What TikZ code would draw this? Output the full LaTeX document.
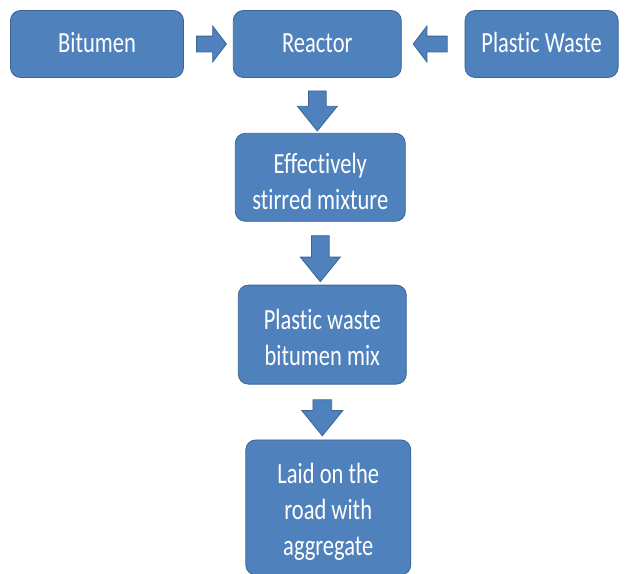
\documentclass[tikz,border=0pt]{standalone}
\usepackage{fontspec}
\setmainfont{Carlito}[Ligatures=NoCommon]
\usepackage{graphicx}
\usepackage{tikz}
\usetikzlibrary{positioning,calc,shapes.arrows}
\definecolor{BoxFill}{HTML}{4F81BD}
\definecolor{BoxLine}{HTML}{3A6594}

% text of the boxes is drawn a little taller than wide
\newcommand{\tallstack}[2][0pt]{\raisebox{-#1}[\height][\depth]{\scalebox{1}[1.3]{\begin{tabular}{@{}c@{}}#2\end{tabular}}}}

\tikzset{
	stagebox/.style={
		draw=BoxLine,
		fill=BoxFill,
		line width=0.8pt,
		rounded corners=10pt,
		text=white,
		align=center,
		inner sep=0pt,
		font=\fontsize{22.5}{27.7}\selectfont
	},
	flowarrow/.style={
		single arrow,
		draw=BoxLine,
		fill=BoxFill,
		line width=0.8pt,
		inner sep=0pt,
		text height=15pt,
		text depth=0pt,
		minimum height=30pt,
		single arrow head extend=10pt,
		single arrow tip angle=105,
		sloped,
		allow upside down
	},
	downarrow/.style={
		flowarrow,
		text height=17pt,
		single arrow head extend=11pt,
		single arrow tip angle=78,
		minimum height=40pt
	}
}

\begin{document}
\begin{tikzpicture}[node distance=55pt]
			
			\useasboundingbox (0pt,0pt) rectangle (625pt,-574pt);
			
			% ---------------------------------------------------------
			% INPUTS AND REACTOR
			% ---------------------------------------------------------
			
			\node[
			stagebox,
			minimum width=173pt,
			minimum height=67pt
			]
			(bitumen) at (97pt,-44pt)
			{\tallstack[1.5pt]{Bitumen}};
			
			\node[
			stagebox,
			minimum width=168pt,
			minimum height=67pt,
			right=49pt of bitumen
			]
			(reactor)
			{\tallstack[1.5pt]{Reactor}};
			
			\node[
			stagebox,
			minimum width=153pt,
			minimum height=67pt,
			right=63pt of reactor
			]
			(plastic)
			{\tallstack[1.5pt]{Plastic Waste}};
			
			% ---------------------------------------------------------
			% MIXING
			% ---------------------------------------------------------
			
			\node[
			stagebox,
			minimum width=170pt,
			minimum height=88pt,
			below=55pt of reactor,
			xshift=3pt
			]
			(stirred)
			{\tallstack[7pt]{Effectively\\stirred mixture}};
			
			\node[
			stagebox,
			minimum width=168pt,
			minimum height=99pt,
			below=63pt of stirred,
			xshift=2pt
			]
			(mix)
			{\tallstack[6pt]{Plastic waste\\bitumen mix}};
			
			% ---------------------------------------------------------
			% ROAD
			% ---------------------------------------------------------
			
			\node[
			stagebox,
			minimum width=165pt,
			minimum height=135pt,
			below=55pt of mix,
			xshift=6pt
			]
			(road)
			{\tallstack[5pt]{Laid on the\\road with\\aggregate}};
			
			% ---------------------------------------------------------
			% ARROWS
			% ---------------------------------------------------------
			
			\path
			(bitumen.east) -- node[flowarrow]{} (reactor.west);
			
			\path
			(plastic.west) -- node[flowarrow,minimum height=34pt]{} (reactor.east);
			
			\path
			(reactor.south) -- node[downarrow]{} (reactor.south |- stirred.north);
			
			\path
			(stirred.south) -- node[downarrow,minimum height=46pt]{} (stirred.south |- mix.north);
			
			\path
			(mix.south) -- node[downarrow,minimum height=36pt,text height=18pt]{} (mix.south |- road.north);
			
		\end{tikzpicture}
\end{document}
